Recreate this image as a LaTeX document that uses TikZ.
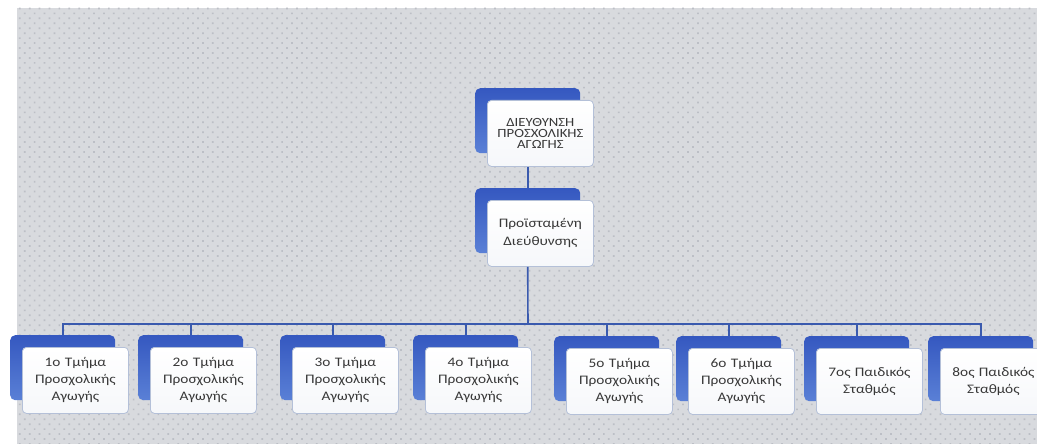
\documentclass[tikz,border=0pt]{standalone}
\usepackage{fontspec}
\setmainfont{Carlito}[FakeStretch=1.18]
\usetikzlibrary{calc,patterns.meta}
\definecolor{bgcol}{HTML}{D8DADE}
\definecolor{dotcol}{HTML}{BCBFC6}
\definecolor{blueA}{HTML}{3558C0}
\definecolor{blueB}{HTML}{5A80D6}
\definecolor{frameC}{HTML}{B4C0D8}
\definecolor{txtC}{HTML}{383838}
\definecolor{lineC}{HTML}{3A5AAE}
\tikzset{
  backbox/.style={minimum width=105pt, minimum height=65pt, rounded corners=5pt,
    top color=blueA, bottom color=blueB, draw=none, inner sep=0pt},
  frontbox/.style={minimum width=106pt, minimum height=66pt, rounded corners=4pt,
    top color=white, bottom color=white!88!frameC, draw=frameC, line width=0.8pt,
    text width=104pt, align=center, inner sep=0pt, text=txtC,
    font=\fontsize{13}{17}\selectfont},
  capsfont/.style={font=\fontsize{12.5}{11}\selectfont},
  midfont/.style={font=\fontsize{13}{18}\selectfont},
  conn/.style={draw=lineC, line width=1.6pt}
}
\newcommand\orgbox[5][]{%
  \node[backbox, anchor=north west] (#2b) at (#3,#4) {};
  \node[frontbox, anchor=north west, #1] (#2) at ($(#2b.north west)+(12,12)$) {#5};
}
\begin{document}
\begin{tikzpicture}[x=1pt,y=-1pt]
\useasboundingbox (0,0) rectangle (1037,444);
\fill[bgcol] (17,8) rectangle (1037,444);
\fill[pattern={Dots[distance=7pt, radius=1.2pt, angle=45]}, pattern color=dotcol] (17,8) rectangle (1037,444);
% top levels
\orgbox[capsfont]{top}{475}{88}{ΔΙΕΥΘΥΝΣΗ\\ΠΡΟΣΧΟΛΙΚΗΣ\\ΑΓΩΓΗΣ}
\orgbox[midfont]{mid}{475}{188}{Προϊσταμένη\\Διεύθυνσης}
% bottom level
\orgbox{b1}{10}{335}{1ο Τμήμα\\Προσχολικής\\Αγωγής}
\orgbox{b2}{138}{335}{2ο Τμήμα\\Προσχολικής\\Αγωγής}
\orgbox{b3}{280}{335}{3ο Τμήμα\\Προσχολικής\\Αγωγής}
\orgbox{b4}{413}{335}{4ο Τμήμα\\Προσχολικής\\Αγωγής}
\orgbox{b5}{554}{336}{5ο Τμήμα\\Προσχολικής\\Αγωγής}
\orgbox{b6}{676}{336}{6ο Τμήμα\\Προσχολικής\\Αγωγής}
\orgbox{b7}{804}{336}{7ος Παιδικός\\Σταθμός}
\orgbox{b8}{928}{336}{8ος Παιδικός\\Σταθμός}
% connectors
\coordinate (bus) at (528,324);
\draw[conn] (top.south -| topb.south) -- (midb.north);
\draw[conn] (mid.south -| midb.south) -- (bus);
\draw[conn] (b1b.north) |- (bus) -| (b8b.north);
\foreach \i in {2,...,7}{\draw[conn] (bus -| b\i b.north) -- (b\i b.north);}
\end{tikzpicture}
\end{document}
